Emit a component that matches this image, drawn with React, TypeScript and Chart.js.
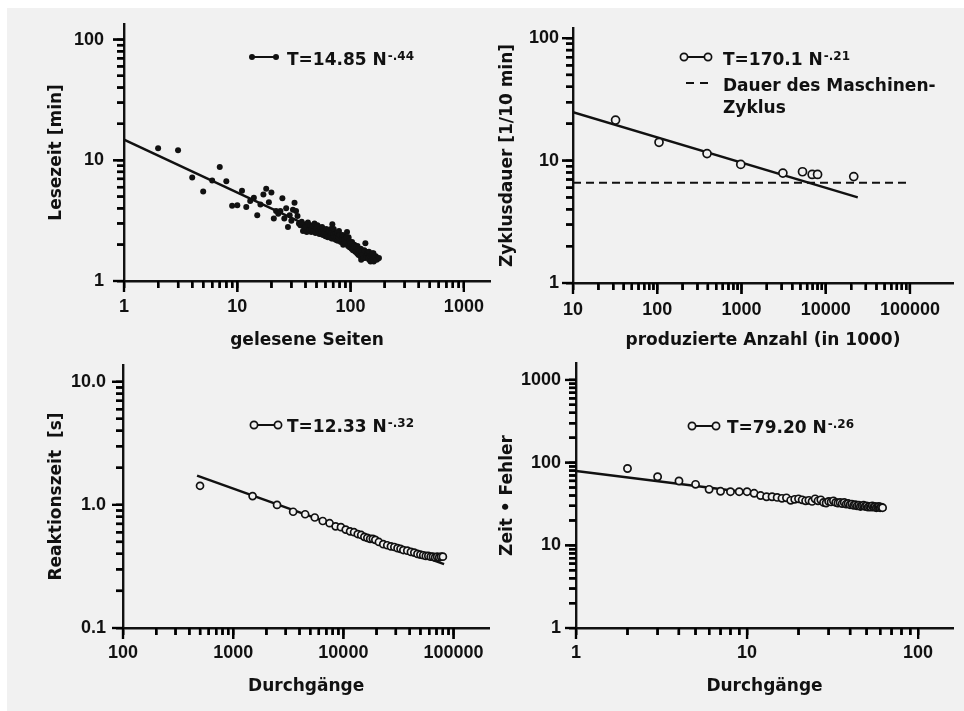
import React, { useEffect, useRef } from 'react';
import { Chart, registerables } from 'chart.js';

Chart.register(...registerables);

// ---------- Panel 1: Lesezeit vs. gelesene Seiten ----------
const readPages = [
  2, 3, 4, 5, 6, 7, 8, 9, 10, 11,
  12, 13, 14, 15, 16, 17, 18, 19, 20, 21,
  22, 23, 24, 25, 26, 27, 28, 29, 30, 31,
  32, 33, 34, 35, 36, 37, 38, 39, 40, 41,
  42, 43, 44, 45, 46, 47, 48, 49, 50, 51,
  52, 53, 54, 55, 56, 57, 58, 59, 60, 61,
  62, 63, 64, 65, 66, 67, 68, 69, 70, 71,
  72, 73, 74, 75, 76, 77, 78, 79, 80, 82,
  84, 85, 86, 88, 90, 92, 93, 95, 97, 98,
  100, 102, 104, 105, 107, 110, 112, 114, 116, 118,
  120, 122, 124, 125, 128, 130, 132, 135, 138, 140,
  143, 145, 148, 150, 153, 155, 158, 160, 162, 165,
  170, 178,
];
const readTime = [
  12.6, 12.1, 7.2, 5.5, 6.8, 8.8, 6.7, 4.2, 4.25, 5.6,
  4.1, 4.6, 4.9, 3.5, 4.3, 5.2, 5.8, 4.5, 5.4, 3.3,
  3.8, 3.6, 3.8, 4.85, 3.3, 4.0, 2.8, 3.5, 3.15, 3.9,
  4.45, 3.8, 3.45, 3.0, 2.9, 3.1, 2.6, 2.75, 2.8, 2.55,
  3.05, 2.65, 2.9, 2.7, 2.85, 2.6, 3.0, 2.5, 2.75, 2.9,
  2.6, 2.45, 2.7, 2.55, 2.8, 2.4, 2.6, 2.5, 2.35, 2.7,
  2.45, 2.3, 2.55, 2.6, 2.35, 2.5, 2.25, 2.95, 2.4, 2.7,
  2.3, 2.45, 2.2, 2.35, 2.5, 2.15, 2.3, 2.6, 2.4, 2.1,
  2.25, 2.4, 2.0, 2.2, 2.05, 2.3, 2.55, 1.95, 2.15, 1.9,
  2.05, 1.85, 2.0, 1.8, 1.95, 1.75, 1.9, 1.7, 1.85, 1.65,
  1.8, 1.6, 1.5, 1.75, 1.65, 1.55, 1.8, 2.05, 1.6, 1.7,
  1.55, 1.75, 1.6, 1.45, 1.65, 1.7, 1.55, 1.45, 1.6, 1.55,
  1.5, 1.55,
];
// second reading session (dense cloud in the 40–170 page range)
const readPagesB = [
  40, 43, 45, 47, 50, 52, 55, 57, 60, 62,
  65, 67, 70, 72, 75, 78, 81, 83, 87, 89,
  91, 94, 96, 99, 101, 103, 106, 108, 111, 113,
  115, 117, 119, 121, 123, 127, 129, 131, 134, 137,
  139, 142, 146, 149, 152, 156, 159, 163, 167, 172,
];
const readTimeB = [
  2.95, 2.75, 2.55, 2.75, 2.6, 2.8, 2.45, 2.65, 2.55, 2.35,
  2.4, 2.7, 2.25, 2.55, 2.2, 2.45, 2.3, 2.15, 2.35, 2.05,
  2.25, 2.1, 2.3, 1.95, 1.9, 2.1, 1.85, 2.0, 1.85, 1.75,
  1.95, 1.65, 1.8, 1.7, 1.85, 1.6, 1.75, 1.65, 1.55, 1.75,
  1.6, 1.7, 1.5, 1.65, 1.55, 1.6, 1.7, 1.5, 1.6, 1.52,
];
const readFitX = [1, 185];
const readFitY = [14.85, 1.5];
const readXTicks = [1, 10, 100, 1000];
const readXLabels = ['1', '10', '100', '1000'];
const readYTicks = [1, 10, 100];
const readYLabels = ['1', '10', '100'];

// ---------- Panel 2: Zyklusdauer vs. produzierte Anzahl ----------
const producedCount = [32, 105, 390, 980, 3100, 5300, 6900, 8000, 21500];
const cycleTime = [21.4, 14.1, 11.4, 9.3, 7.9, 8.1, 7.7, 7.7, 7.4];
const cycleFitX = [10, 24000];
const cycleFitY = [24.8, 5.0];
const machineCycleX = [10, 95000];
const machineCycleY = [6.6, 6.6];
const cycleXTicks = [10, 100, 1000, 10000, 100000];
const cycleXLabels = ['10', '100', '1000', '10000', '100000'];
const cycleYTicks = [1, 10, 100];
const cycleYLabels = ['1', '10', '100'];

// ---------- Panel 3: Reaktionszeit vs. Durchgänge ----------
const reactTrials = [
  500, 1500, 2500, 3500, 4500, 5500, 6500, 7500, 8500, 9500,
  10500, 11500, 12500, 13500, 14500, 15500, 16500, 17500, 18500, 19500,
  21000, 23000, 25000, 27000, 29000, 31000, 33000, 35000, 38000, 41000,
  44000, 47000, 50000, 53000, 56000, 59000, 62000, 65000, 68000, 71000,
  74000, 77000, 80000,
];
const reactTime = [
  1.43, 1.18, 1.0, 0.88, 0.84, 0.79, 0.74, 0.71, 0.67, 0.66,
  0.63, 0.61, 0.6, 0.58, 0.57, 0.55, 0.54, 0.53, 0.53, 0.52,
  0.5, 0.48, 0.47, 0.46, 0.455, 0.445, 0.44, 0.43, 0.425, 0.415,
  0.41, 0.4, 0.395, 0.39, 0.385, 0.385, 0.38, 0.38, 0.375, 0.38,
  0.375, 0.38, 0.38,
];
const reactFitX = [470, 82000];
const reactFitY = [1.73, 0.33];
const reactXTicks = [100, 1000, 10000, 100000];
const reactXLabels = ['100', '1000', '10000', '100000'];
const reactYTicks = [0.1, 1, 10];
const reactYLabels = ['0.1', '1.0', '10.0'];

// ---------- Panel 4: Zeit · Fehler vs. Durchgänge ----------
const errTrials = [
  2, 3, 4, 5, 6, 7, 8, 9, 10, 11,
  12, 13, 14, 15, 16, 17, 18, 19, 20, 21,
  22, 23, 24, 25, 26, 27, 28, 29, 30, 31,
  32, 33, 34, 35, 36, 37, 38, 39, 40, 41,
  42, 43, 44, 45, 46, 47, 48, 49, 50, 51,
  52, 53, 54, 55, 56, 57, 58, 59, 60, 61,
  62,
];
const errValue = [
  85, 67.5, 60, 54.6, 47.5, 45, 44.5, 44.5, 44.5, 42.6,
  40, 38.7, 38.7, 38, 37, 37.5, 35, 36, 36.5, 35.5,
  34.5, 35, 34, 36.5, 34.5, 35.5, 33, 32.5, 34, 33.5,
  34.5, 33, 32.5, 33, 32, 33, 31.5, 32, 31, 31.5,
  30.5, 31, 30, 30.5, 29.5, 30, 30.5, 29.5, 30, 29,
  29.5, 29, 30, 29, 29.5, 28.5, 29, 29.5, 28.5, 29,
  28.5,
];
const errFitX = [1, 65];
const errFitY = [79.2, 27.0];
const errXTicks = [1, 10, 100];
const errXLabels = ['1', '10', '100'];
const errYTicks = [1, 10, 100, 1000];
const errYLabels = ['1', '10', '100', '1000'];

// ---------- styling ----------
const INK = '#111111';
const PAPER = '#f1f1f1';
const W = 964;
const H = 711;
const MINOR_LEN = 7;
const MAJOR_LEN = 11;
const TICK_FONT = { family: '"Liberation Sans", Arial, sans-serif', size: 18, weight: 'bold' as const };
const TITLE_FONT = { family: '"DejaVu Sans", sans-serif', size: 17, weight: 'bold' as const };
const LEGEND_FONT = 'bold 17px "DejaVu Sans", sans-serif';
const SUP_FONT = 'bold 12px "DejaVu Sans", sans-serif';

type LegendRow = {
  marker: 'filled' | 'open' | 'dash' | 'none';
  mx: number; my: number; tx: number; ty: number;
  text: string; sup?: string;
};

type Spec = {
  box: { x: number; y: number; w: number; h: number };
  L: number; R: number; T: number; B: number; yW: number; xH: number;
  xMin: number; xMax: number; yMin: number; yMax: number;
  xTicks: number[]; xLabels: string[]; yTicks: number[]; yLabels: string[];
  xPad: number; yPad: number;
  xTitle: string; yTitle: string;
  datasets: any[];
  legend: LegendRow[];
};

function pts(xs: number[], ys: number[]) {
  return xs.map((x, i) => ({ x, y: ys[i] }));
}

function logTickValues(min: number, last: number) {
  const out: number[] = [];
  const k0 = Math.floor(Math.log10(min) + 1e-9);
  const k1 = Math.round(Math.log10(last));
  for (let k = k0; k <= k1; k++) {
    for (let m = 1; m <= 9; m++) {
      const v = parseFloat((m * Math.pow(10, k)).toPrecision(6));
      if (v >= min * 0.999 && v <= last * 1.001) out.push(v);
    }
  }
  return out;
}

function isDecade(v: number) {
  const l = Math.log10(v);
  return Math.abs(l - Math.round(l)) < 1e-6;
}

function labelFor(values: number[], labels: string[], v: number) {
  const i = values.findIndex((t) => Math.abs(t - v) / t < 1e-6);
  return i >= 0 ? labels[i] : '';
}

function buildConfig(s: Spec): any {
  const ox = s.box.x;
  const oy = s.box.y;
  const xTickVals = logTickValues(s.xMin, s.xTicks[s.xTicks.length - 1]);
  const yTickVals = logTickValues(s.yMin, s.yTicks[s.yTicks.length - 1]);

  const drawTickMarks = (chart: any) => {
    const ctx = chart.ctx;
    const area = chart.chartArea;
    const xs = chart.scales.x;
    const ys = chart.scales.y;
    ctx.save();
    ctx.strokeStyle = '#000000';
    ctx.lineWidth = 2.2;
    ctx.setLineDash([]);
    for (const v of xTickVals) {
      const len = isDecade(v) ? MAJOR_LEN : MINOR_LEN;
      const p = xs.getPixelForValue(v);
      ctx.beginPath();
      ctx.moveTo(p, area.bottom);
      ctx.lineTo(p, area.bottom + len);
      ctx.stroke();
    }
    for (const v of yTickVals) {
      const len = isDecade(v) ? MAJOR_LEN : MINOR_LEN;
      const p = ys.getPixelForValue(v);
      ctx.beginPath();
      ctx.moveTo(area.left, p);
      ctx.lineTo(area.left - len, p);
      ctx.stroke();
    }
    ctx.restore();
  };

  const tickPlugin = {
    id: 'logTickMarks',
    beforeDatasetsDraw(chart: any) { drawTickMarks(chart); },
  };

  const legendPlugin = {
    id: 'powerLegend',
    afterDraw(chart: any) {
      drawTickMarks(chart);
      const { ctx } = chart;
      ctx.save();
      for (const row of s.legend) {
        const mx = row.mx - ox;
        const my = row.my - oy;
        ctx.strokeStyle = INK;
        ctx.fillStyle = INK;
        ctx.lineWidth = 2;
        if (row.marker !== 'none') {
          if (row.marker === 'dash') ctx.setLineDash([8, 6]);
          ctx.beginPath();
          ctx.moveTo(mx, my);
          ctx.lineTo(mx + 24, my);
          ctx.stroke();
          ctx.setLineDash([]);
          if (row.marker === 'filled' || row.marker === 'open') {
            for (const cx of [mx, mx + 24]) {
              ctx.beginPath();
              ctx.arc(cx, my, row.marker === 'filled' ? 3 : 3.6, 0, Math.PI * 2);
              if (row.marker === 'filled') {
                ctx.fill();
              } else {
                ctx.fillStyle = PAPER;
                ctx.fill();
                ctx.lineWidth = 1.7;
                ctx.stroke();
                ctx.fillStyle = INK;
              }
            }
          }
        }
        ctx.font = LEGEND_FONT;
        ctx.textBaseline = 'alphabetic';
        ctx.textAlign = 'left';
        ctx.fillText(row.text, row.tx - ox, row.ty - oy);
        if (row.sup) {
          const w = ctx.measureText(row.text).width;
          ctx.font = SUP_FONT;
          ctx.fillText(row.sup, row.tx - ox + w + 1, row.ty - oy - 5);
        }
      }
      ctx.restore();
    },
  };

  const makeGrid = () => ({
    display: true,
    drawOnChartArea: false,
    drawTicks: true,
    tickLength: MINOR_LEN,
    tickWidth: 2,
    tickColor: INK,
    color: INK,
  });

  return {
    type: 'scatter',
    data: { datasets: s.datasets },
    plugins: [tickPlugin, legendPlugin],
    options: {
      animation: false,
      responsive: false,
      maintainAspectRatio: false,
      events: [],
      layout: {
        padding: {
          left: s.L - s.yW - ox,
          right: ox + s.box.w - s.R,
          top: s.T - oy,
          bottom: oy + s.box.h - s.B - s.xH,
        },
      },
      plugins: { legend: { display: false }, tooltip: { enabled: false } },
      scales: {
        x: {
          type: 'logarithmic',
          position: 'bottom',
          min: s.xMin,
          max: s.xMax,
          afterBuildTicks: (sc: any) => { sc.ticks = xTickVals.map((v) => ({ value: v })); },
          afterFit: (sc: any) => { sc.height = s.xH; },
          grid: makeGrid(),
          border: { display: true, color: INK, width: 2.4 },
          ticks: {
            autoSkip: false, maxRotation: 0, minRotation: 0, padding: s.xPad,
            color: INK, font: TICK_FONT,
            callback: (v: any) => labelFor(s.xTicks, s.xLabels, Number(v)),
          },
          title: { display: true, text: s.xTitle, color: INK, font: TITLE_FONT, padding: 0 },
        },
        y: {
          type: 'logarithmic',
          position: 'left',
          min: s.yMin,
          max: s.yMax,
          afterBuildTicks: (sc: any) => { sc.ticks = yTickVals.map((v) => ({ value: v })); },
          afterFit: (sc: any) => { sc.width = s.yW; },
          grid: makeGrid(),
          border: { display: true, color: INK, width: 2.4 },
          ticks: {
            autoSkip: false, padding: s.yPad,
            color: INK, font: TICK_FONT,
            callback: (v: any) => labelFor(s.yTicks, s.yLabels, Number(v)),
          },
          title: { display: true, text: s.yTitle, color: INK, font: TITLE_FONT, padding: 0 },
        },
      },
    },
  };
}

function filledPoints(xs: number[], ys: number[]) {
  return {
    data: pts(xs, ys), showLine: false,
    pointRadius: 3, pointBackgroundColor: INK, pointBorderWidth: 0, pointBorderColor: INK,
  };
}
function openPoints(xs: number[], ys: number[], r: number) {
  return {
    data: pts(xs, ys), showLine: false,
    pointRadius: r, pointBackgroundColor: PAPER, pointBorderWidth: 1.7, pointBorderColor: INK,
  };
}
function fitLine(xs: number[], ys: number[], dash: number[] = []) {
  return {
    data: pts(xs, ys), showLine: true, pointRadius: 0,
    borderColor: INK, borderWidth: dash.length ? 2 : 2.5, borderDash: dash,
  };
}

const SPECS: Spec[] = [
  {
    box: { x: 0, y: 0, w: 495, h: 357 },
    L: 124, R: 490, T: 22, B: 281, yW: 78, xH: 70,
    xMin: 1, xMax: 1700, yMin: 1, yMax: 135,
    xTicks: readXTicks, xLabels: readXLabels, yTicks: readYTicks, yLabels: readYLabels,
    xPad: 8, yPad: 13,
    xTitle: 'gelesene Seiten', yTitle: 'Lesezeit [min]',
    datasets: [
      filledPoints(readPages, readTime),
      filledPoints(readPagesB, readTimeB),
      fitLine(readFitX, readFitY),
    ],
    legend: [{ marker: 'filled', mx: 252, my: 57, tx: 287, ty: 65, text: 'T=14.85 N', sup: '-.44' }],
  },
  {
    box: { x: 495, y: 0, w: 469, h: 357 },
    L: 573, R: 953, T: 28, B: 283, yW: 76, xH: 68,
    xMin: 10, xMax: 324000, yMin: 1, yMax: 121,
    xTicks: cycleXTicks, xLabels: cycleXLabels, yTicks: cycleYTicks, yLabels: cycleYLabels,
    xPad: 9, yPad: 7,
    xTitle: 'produzierte Anzahl (in 1000)', yTitle: 'Zyklusdauer [1/10 min]',
    datasets: [
      openPoints(producedCount, cycleTime, 4),
      fitLine(cycleFitX, cycleFitY),
      fitLine(machineCycleX, machineCycleY, [8, 5]),
    ],
    legend: [
      { marker: 'open', mx: 684, my: 57, tx: 723, ty: 65, text: 'T=170.1 N', sup: '-.21' },
      { marker: 'dash', mx: 686, my: 83, tx: 723, ty: 91, text: 'Dauer des Maschinen-' },
      { marker: 'none', mx: 0, my: 0, tx: 723, ty: 113, text: 'Zyklus' },
    ],
  },
  {
    box: { x: 0, y: 330, w: 495, h: 381 },
    L: 123, R: 491, T: 365, B: 628, yW: 77, xH: 69,
    xMin: 100, xMax: 211000, yMin: 0.1, yMax: 13.7,
    xTicks: reactXTicks, xLabels: reactXLabels, yTicks: reactYTicks, yLabels: reactYLabels,
    xPad: 7, yPad: 10,
    xTitle: 'Durchgänge', yTitle: 'Reaktionszeit  [s]',
    datasets: [openPoints(reactTrials, reactTime, 3.5), fitLine(reactFitX, reactFitY)],
    legend: [{ marker: 'open', mx: 254, my: 425, tx: 287, ty: 432, text: 'T=12.33 N', sup: '-.32' }],
  },
  {
    box: { x: 495, y: 330, w: 469, h: 381 },
    L: 576, R: 953, T: 363, B: 628, yW: 79, xH: 69,
    xMin: 1, xMax: 160, yMin: 1, yMax: 1604,
    xTicks: errXTicks, xLabels: errXLabels, yTicks: errYTicks, yLabels: errYLabels,
    xPad: 7, yPad: 8,
    xTitle: 'Durchgänge', yTitle: 'Zeit • Fehler',
    datasets: [openPoints(errTrials, errValue, 3.6), fitLine(errFitX, errFitY)],
    legend: [{ marker: 'open', mx: 692, my: 426, tx: 727, ty: 433, text: 'T=79.20 N', sup: '-.26' }],
  },
];

function Panel({ spec }: { spec: Spec }) {
  const ref = useRef<HTMLCanvasElement | null>(null);
  useEffect(() => {
    if (!ref.current) return;
    const chart = new Chart(ref.current, buildConfig(spec));
    return () => chart.destroy();
  }, [spec]);
  const b = spec.box;
  return (
    <canvas
      ref={ref}
      width={b.w}
      height={b.h}
      style={{ position: 'absolute', left: b.x, top: b.y, width: b.w, height: b.h }}
    />
  );
}

export default function App() {
  return (
    <div style={{ position: 'fixed', left: 0, top: 0, width: W, height: H, background: '#ffffff', overflow: 'hidden' }}>
      <div style={{ position: 'absolute', left: 7, top: 8, right: 0, bottom: 0, background: PAPER }} />
      {SPECS.map((s, i) => (
        <Panel key={i} spec={s} />
      ))}
    </div>
  );
}
